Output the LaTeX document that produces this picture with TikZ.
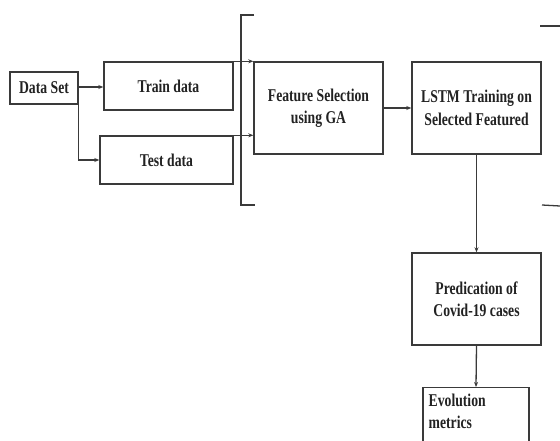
\documentclass[tikz,border=0pt]{standalone}
\usepackage{fontspec}
\setmainfont{Liberation Serif}
\newfontfamily\condfont[FakeStretch=0.76]{Liberation Serif}
\usetikzlibrary{arrows.meta}
\definecolor{lin}{HTML}{3A3A3A}
\definecolor{txt}{HTML}{222222}
\tikzset{
  box/.style={draw=lin, line width=1.4pt, rectangle, inner sep=0pt, align=center,
    font=\condfont\bfseries\fontsize{18}{22.5}\selectfont, text=txt},
  conn/.style={draw=lin, line width=1.3pt, -{Stealth[length=5pt,width=4pt]}},
  brk/.style={draw=lin, line width=1.3pt}
}
\begin{document}
\begin{tikzpicture}[x=1pt,y=-1pt]
\useasboundingbox (0,0) rectangle (560,441);
\clip (0,0) rectangle (560,441);
% boxes
\node[box, minimum width=68, minimum height=32] (ds) at (44,88) {Data Set};
\node[box, minimum width=129, minimum height=48] (train) at (168.5,86) {Train data};
\node[box, minimum width=133, minimum height=48] (test) at (166.5,160) {Test data};
\node[box, minimum width=129, minimum height=92] (feat) at (318.5,108) {Feature Selection\\using GA};
\node[box, minimum width=129, minimum height=92] (lstm) at (476.5,108) {LSTM Training on\\Selected Featured};
\node[box, minimum width=129, minimum height=92] (pred) at (476.5,299) {Predication of\\Covid-19 cases};
\node[box, minimum width=106, minimum height=90, anchor=north] (evol) at (476,387) {};
\node[box, draw=none, anchor=north west, align=left, inner sep=0pt] (evoltext) at (428,393) {Evolution\\metrics};
% connectors
\draw[conn] (ds.east |- 0,87) -- (train.west |- 0,87);
\draw[conn] (ds.south east) |- (test.west);
\draw[conn] (train.north east) -- (feat.north west);
\draw[conn] (test.north east) -- (feat.west |- test.north);
\draw[conn] (feat.east) -- (lstm.west);
\draw[conn] (lstm.south) -- (pred.north);
\draw[conn] (pred.south) -- (evol.north);
% brackets
\draw[brk] (254,15) -- (241,15) -- (241,205) -- (255,205);
\draw[brk] (540,26) -- (560,26);
\draw[brk] (542,205) -- (560,206);
\end{tikzpicture}
\end{document}
